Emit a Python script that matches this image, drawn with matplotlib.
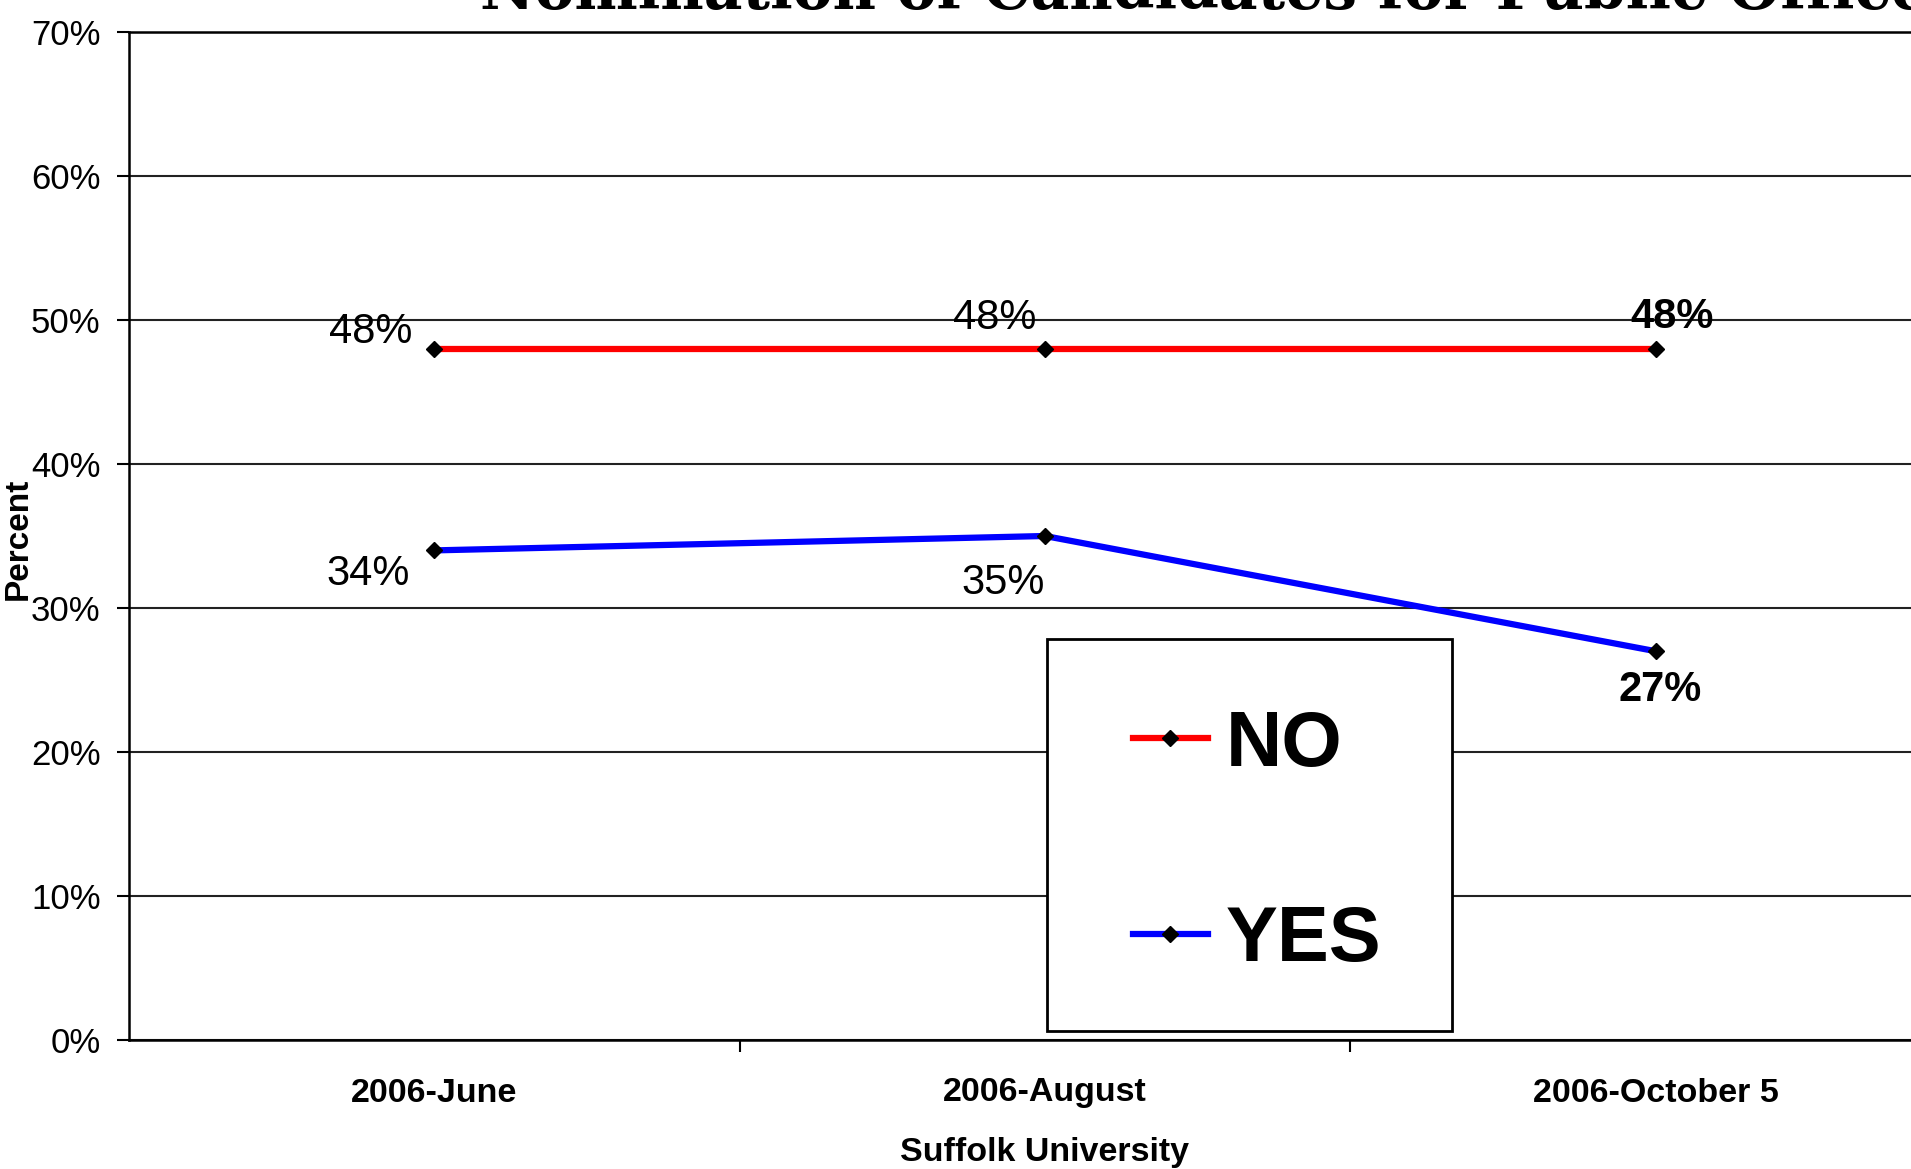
import matplotlib
matplotlib.use('Agg')
import matplotlib.pyplot as plt
import matplotlib.patches as mpatches
from matplotlib.lines import Line2D

# chart data
categories = ['2006-June', '2006-August', '2006-October 5']
no_values = [48, 48, 48]
yes_values = [34, 35, 27]
series_names = ['NO', 'YES']

title = 'Nomination of Candidates for Public Office'
SANS = ['Liberation Sans', 'Arial', 'DejaVu Sans']

W, H = 1911, 1169

def fx(px):
    return px / W

def fy(py):
    return 1 - py / H

fig = plt.figure(figsize=(W / 100, H / 100), dpi=100)
fig.patch.set_facecolor('white')

# axes run off the right edge like the original screenshot
ax = fig.add_axes([fx(129), fy(1040), (1961 - 129) / W, (1040 - 32) / H])
x = list(range(len(categories)))

ax.plot(x, [v / 100 for v in no_values], color='#FF0000', lw=4.5,
        marker='D', ms=8.5, mfc='black', mec='black', zorder=3)
ax.plot(x, [v / 100 for v in yes_values], color='#0000FF', lw=4.5,
        marker='D', ms=8.5, mfc='black', mec='black', zorder=3)

# data labels (offsets in points), last column bold
no_offsets = [(-46, 12), (-36, 22), (12, 23)]
yes_offsets = [(-48, -17), (-30, -34), (3, -28)]
for i in x:
    weight = 'bold' if i == len(x) - 1 else 'normal'
    ax.annotate(f'{no_values[i]}%', (i, no_values[i] / 100), xytext=no_offsets[i],
                textcoords='offset points', ha='center', va='center',
                fontsize=30, fontweight=weight, family=SANS, zorder=4)
    ax.annotate(f'{yes_values[i]}%', (i, yes_values[i] / 100), xytext=yes_offsets[i],
                textcoords='offset points', ha='center', va='center',
                fontsize=30, fontweight=weight, family=SANS, zorder=4)

ax.set_xlim(-0.5, len(categories) - 0.5)
ax.set_ylim(0, 0.70)

yt = [i / 10 for i in range(8)]
ax.set_yticks(yt)
ax.set_yticklabels([f'{int(round(t * 100))}%' for t in yt], fontsize=25, family=SANS)
ax.tick_params(axis='y', length=8.5, width=1.5, pad=12, direction='out')

ax.set_xticks(x)
ax.set_xticklabels(categories, fontsize=24.5, fontweight='bold', family=SANS)
ax.tick_params(axis='x', which='major', length=0, pad=27)
ax.set_xticks([0.5, 1.5], minor=True)
ax.tick_params(axis='x', which='minor', length=8.5, width=1.5, direction='out')

ax.yaxis.grid(True, color='#222222', lw=1.5)
ax.set_axisbelow(True)
for s in ['left', 'bottom', 'top']:
    ax.spines[s].set_linewidth(1.8)
    ax.spines[s].set_color('black')
ax.spines['right'].set_visible(False)

ax.set_xlabel('Suffolk University', fontsize=24.5, fontweight='bold', family=SANS, va='top')
ax.xaxis.set_label_coords(0.5, -97 / 1008)

fig.text(fx(18), fy(539), 'Percent', rotation=90, ha='center', va='center',
         fontsize=24, fontweight='bold', family=SANS)

# title mostly cut off at the top of the picture, as in the original
fig.text(fx(480), fy(9), title, ha='left', va='baseline', fontsize=43,
         fontweight='bold', family=['DejaVu Serif'])

# legend box
box = mpatches.Rectangle((fx(1047), fy(1031)), 405 / W, 392 / H, transform=fig.transFigure,
                         facecolor='white', edgecolor='black', lw=2, zorder=4)
fig.add_artist(box)
handles = [Line2D([], [], color='#FF0000', lw=4.5, marker='D', ms=8.5, mfc='black', mec='black'),
           Line2D([], [], color='#0000FF', lw=4.5, marker='D', ms=8.5, mfc='black', mec='black')]
leg = fig.legend(handles, series_names, loc='center left', bbox_to_anchor=(fx(1133), fy(843)),
                 frameon=False, borderpad=0, borderaxespad=0, handlelength=0.96,
                 handletextpad=0.23, labelspacing=1.58,
                 prop={'family': SANS, 'weight': 'bold', 'size': 56})
leg.set_zorder(5)

plt.savefig('out.png', dpi=100)
